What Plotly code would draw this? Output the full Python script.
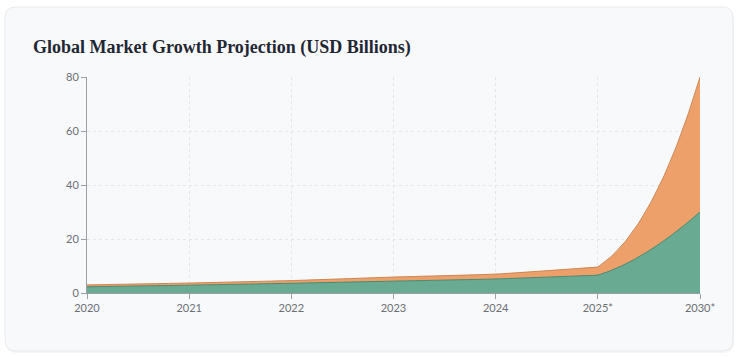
import plotly.graph_objects as go

years = ["2020", "2021", "2022", "2023", "2024", "2025*", "2030*"]
base_market = [2.3, 2.9, 3.6, 4.4, 5.2, 6.6, 30]
growth_market = [0.7, 0.8, 1.0, 1.5, 1.8, 3.0, 50]
y_ticks = [0, 20, 40, 60, 80]

# stacked totals (what a stacked area does)
total_market = [b + g for b, g in zip(base_market, growth_market)]

W, H = 744, 357
L, R, T, B = 87, 700, 77, 293

GREEN_FILL, GREEN_LINE = "#69aa93", "#4e8a70"
ORANGE_FILL, ORANGE_LINE = "#eea06b", "#c98856"

def px(x):
    return (x - L) / (R - L)

def py(y):
    return (B - y) / (B - T)

def rounded_path(x0, y0, x1, y1, r):
    pts = [
        f"M {px(x0 + r)} {py(y0)}",
        f"L {px(x1 - r)} {py(y0)}",
        f"Q {px(x1)} {py(y0)} {px(x1)} {py(y0 + r)}",
        f"L {px(x1)} {py(y1 - r)}",
        f"Q {px(x1)} {py(y1)} {px(x1 - r)} {py(y1)}",
        f"L {px(x0 + r)} {py(y1)}",
        f"Q {px(x0)} {py(y1)} {px(x0)} {py(y1 - r)}",
        f"L {px(x0)} {py(y0 + r)}",
        f"Q {px(x0)} {py(y0)} {px(x0 + r)} {py(y0)}",
        "Z",
    ]
    return " ".join(pts)

def area(xs, ys, fill, line, smooth, hover=True):
    return go.Scatter(
        x=xs, y=ys, mode="lines", fill="tozeroy", fillcolor=fill,
        line=dict(shape="spline", smoothing=smooth, color=line, width=1),
        hoverinfo="x+y" if hover else "skip", showlegend=False,
    )

fig = go.Figure()
# orange (total) band: steep projection segment drawn with strong smoothing,
# early years with light smoothing on top of it
fig.add_trace(area(years[4:], total_market[4:], ORANGE_FILL, ORANGE_LINE, 1.3, hover=False))
fig.add_trace(area(years[:6], total_market[:6], ORANGE_FILL, ORANGE_LINE, 0.4))
# green (base) band
fig.add_trace(area(years[4:], base_market[4:], GREEN_FILL, GREEN_LINE, 1.3, hover=False))
fig.add_trace(area(years[:6], base_market[:6], GREEN_FILL, GREEN_LINE, 0.4))

shapes = [
    dict(type="path", xref="paper", yref="paper",
         path=rounded_path(6, 9, 734, 353, 11),
         fillcolor="rgba(0,0,0,0.04)", line=dict(width=0), layer="below"),
    dict(type="path", xref="paper", yref="paper",
         path=rounded_path(5, 7, 733, 351, 11),
         fillcolor="#f8f9fb", line=dict(color="#e8eaee", width=1), layer="below"),
]

fig.update_layout(
    width=W, height=H,
    margin=dict(l=L, r=W - R, t=T, b=H - B),
    paper_bgcolor="white", plot_bgcolor="rgba(0,0,0,0)",
    showlegend=False,
    shapes=shapes,
    annotations=[dict(
        text="<b>Global Market Growth Projection (USD Billions)</b>",
        xref="paper", yref="paper", x=px(31), y=py(47),
        xanchor="left", yanchor="middle", showarrow=False,
        font=dict(family="Liberation Serif", size=18, color="#1f2733"),
    )],
    xaxis=dict(
        type="category", range=[0, len(years) - 1],
        categoryorder="array", categoryarray=years,
        showgrid=True, gridcolor="#e3e5e9", griddash="dot", gridwidth=1,
        showline=True, linecolor="#9a9ea5", linewidth=1,
        ticks="outside", ticklen=5, tickcolor="#9a9ea5",
        tickfont=dict(family="Lato", size=11, color="#6b6f76"),
        zeroline=False, fixedrange=True,
    ),
    yaxis=dict(
        range=[0, 80], tickvals=y_ticks,
        showgrid=True, gridcolor="#e3e5e9", griddash="dot", gridwidth=1,
        showline=True, linecolor="#9a9ea5", linewidth=1,
        ticks="outside", ticklen=5, tickcolor="#9a9ea5",
        tickfont=dict(family="Lato", size=11, color="#6b6f76"),
        zeroline=False, fixedrange=True,
    ),
)

fig.write_html(
    "out.html",
    config={"displayModeBar": False},
    post_script="document.body.style.margin='0';document.body.style.overflow='hidden';",
)
